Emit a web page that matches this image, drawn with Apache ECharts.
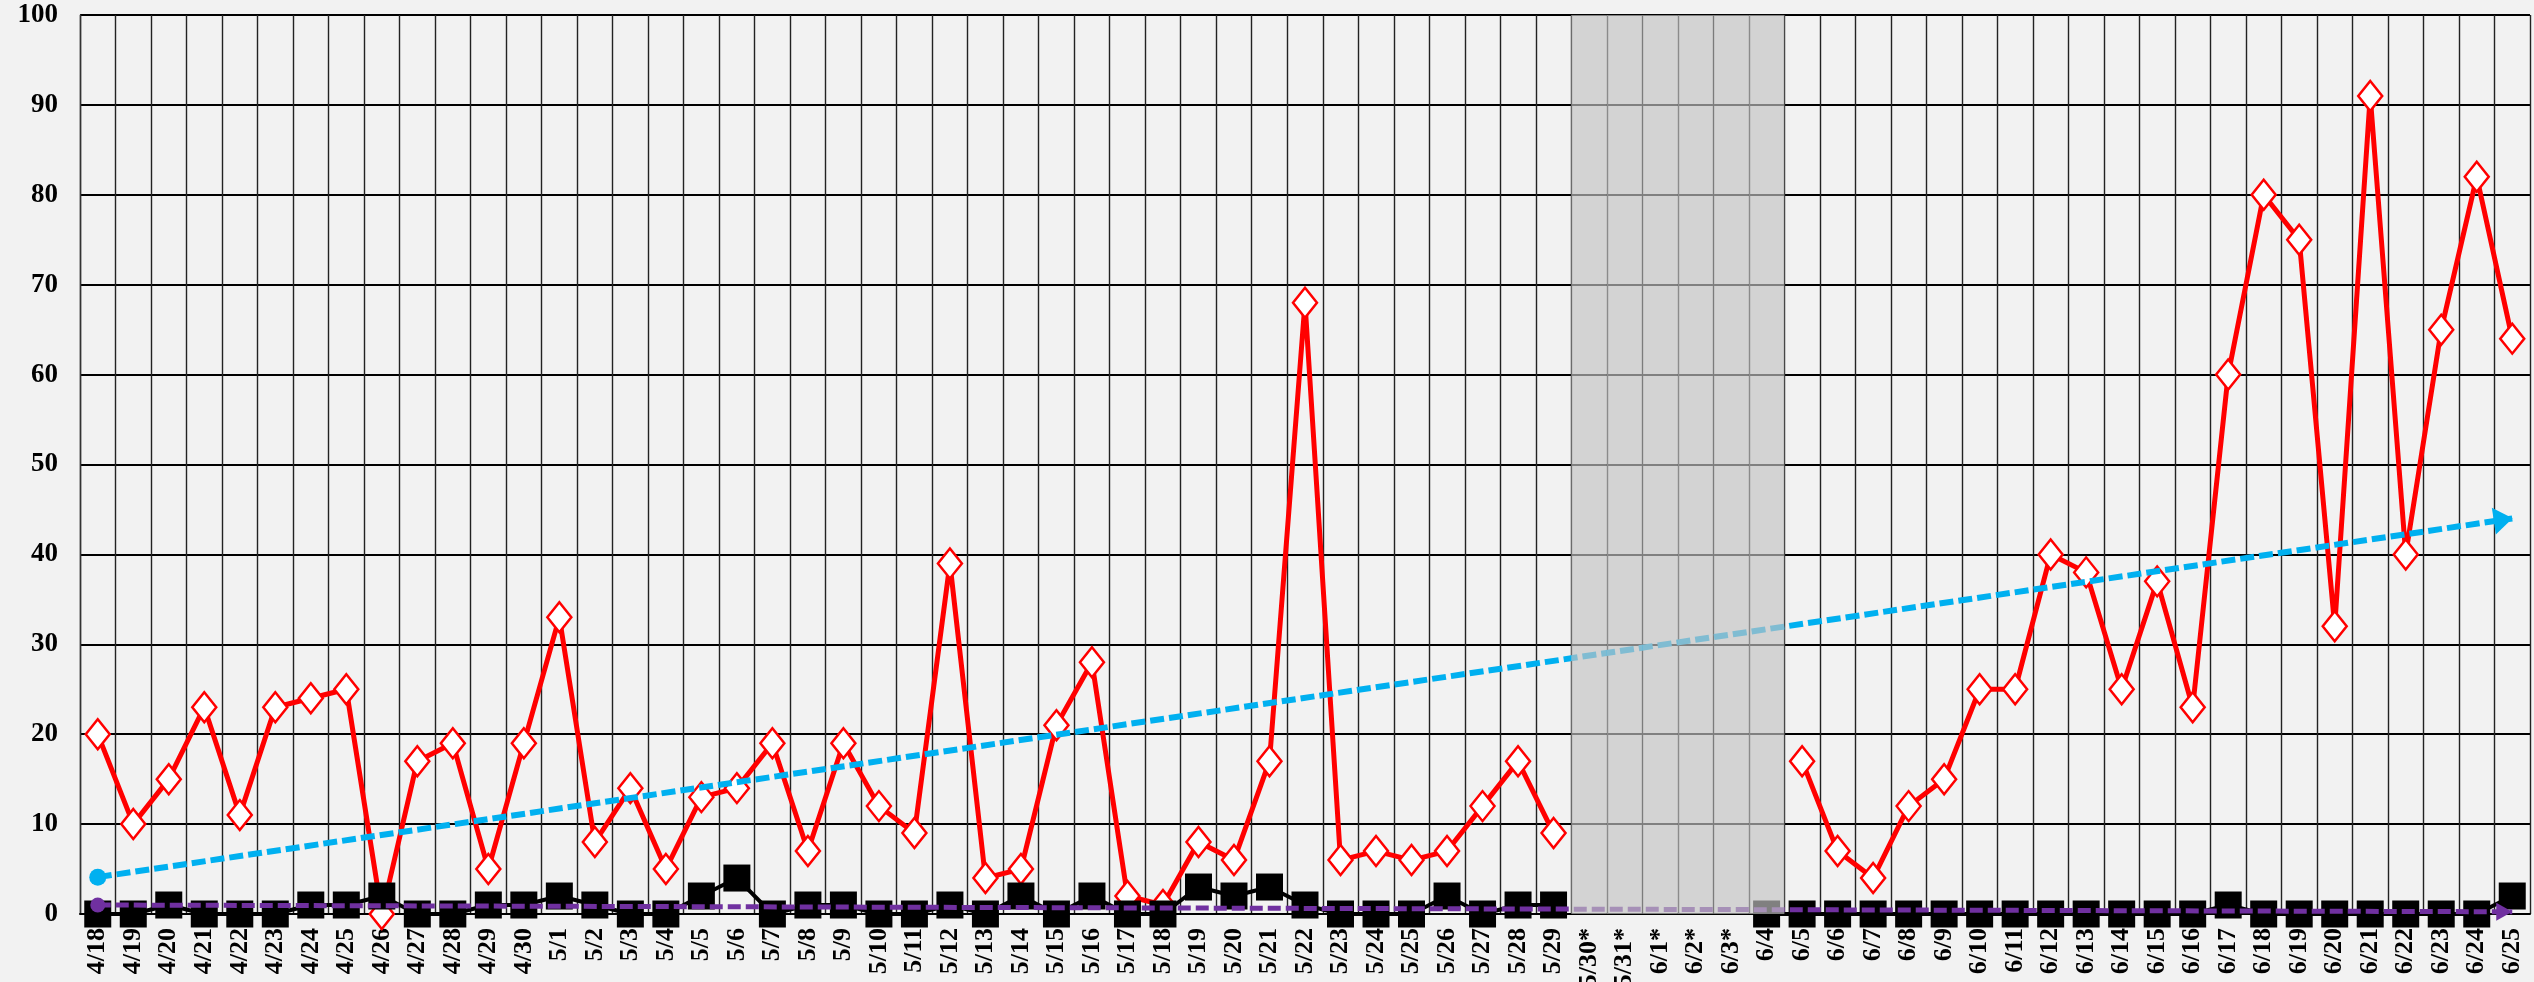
<!DOCTYPE html>
<html>
<head>
<meta charset="utf-8">
<script src="https://cdn.jsdelivr.net/npm/echarts@6/dist/echarts.min.js"></script>
<style>
html,body{margin:0;padding:0;background:#f2f2f2;}
#chart{width:2534px;height:982px;}
</style>
</head>
<body>
<div id="chart"></div>
<script>
var categories = ['4/18','4/19','4/20','4/21','4/22','4/23','4/24','4/25','4/26','4/27','4/28','4/29','4/30',
  '5/1','5/2','5/3','5/4','5/5','5/6','5/7','5/8','5/9','5/10','5/11','5/12','5/13','5/14','5/15','5/16','5/17','5/18','5/19','5/20','5/21','5/22','5/23','5/24','5/25','5/26','5/27','5/28','5/29',
  '5/30*','5/31*','6/1*','6/2*','6/3*',
  '6/4','6/5','6/6','6/7','6/8','6/9','6/10','6/11','6/12','6/13','6/14','6/15','6/16','6/17','6/18','6/19','6/20','6/21','6/22','6/23','6/24','6/25'];

var redValues = [20,10,15,23,11,23,24,25,0,17,19,5,19,
  33,8,14,5,13,14,19,7,19,12,9,39,4,5,21,28,2,1,8,6,17,68,6,7,6,7,12,17,9,
  null,null,null,null,null,
  null,17,7,4,12,15,25,25,40,38,25,37,23,60,80,75,32,91,40,65,82,64];

var blackValues = [0,0,1,0,0,0,1,1,2,0,0,1,1,
  2,1,0,0,2,4,0,1,1,0,0,1,0,2,0,2,0,0,3,2,3,1,0,0,0,2,0,1,1,
  null,null,null,null,null,
  0,0,0,0,0,0,0,0,0,0,0,0,0,1,0,0,0,0,0,0,0,2];

var blueTrendEnds = [4.1, 44.0];
var purpleTrendEnds = [1.0, 0.25];

var shadedCategories = ['5/30*','5/31*','6/1*','6/2*','6/3*','6/4'];
var yTicks = [0,10,20,30,40,50,60,70,80,90,100];

function trendData(ends, startSize, endSize, endRotate, endOffset){
  var d = categories.map(function(){ return null; });
  d[0] = {value: ends[0], symbol: 'circle', symbolSize: startSize};
  d[d.length-1] = {value: ends[1], symbol: 'triangle', symbolSize: endSize, symbolRotate: endRotate, symbolOffset: endOffset};
  return d;
}

var bandData = categories.map(function(c){ return shadedCategories.indexOf(c) >= 0 ? yTicks[yTicks.length-1] : null; });

var fontFam = '"Liberation Serif","Times New Roman",serif';

var chart = echarts.init(document.getElementById('chart'), null, {renderer:'canvas'});
chart.setOption({
  animation: false,
  backgroundColor: '#f2f2f2',
  grid: {left: 80, right: 4, top: 15, bottom: 68, containLabel: false, outerBoundsMode: 'none'},
  xAxis: {
    type: 'category',
    data: categories,
    boundaryGap: true,
    axisLine: {show: true, lineStyle: {color: '#000', width: 2}},
    axisTick: {show: false},
    axisLabel: {rotate: 90, interval: 0, margin: 14, color: '#000', fontFamily: fontFam, fontWeight: 'bold', fontSize: 26},
    splitLine: {show: true, interval: 0, lineStyle: {color: '#222', width: 1.4}}
  },
  yAxis: {
    type: 'value',
    min: yTicks[0], max: yTicks[yTicks.length-1], interval: 10,
    axisLine: {show: true, lineStyle: {color: '#333', width: 1.4}},
    axisTick: {show: false},
    axisLabel: {margin: 22, color: '#000', fontFamily: fontFam, fontWeight: 'bold', fontSize: 27},
    splitLine: {show: true, lineStyle: {color: '#000', width: 2.2}}
  },
  series: [
    {
      name: 'red', type: 'line', data: redValues, z: 3,
      symbol: 'diamond', symbolSize: [24, 30], showAllSymbol: true,
      itemStyle: {color: '#ffffff', borderColor: '#ff0000', borderWidth: 2.5},
      lineStyle: {color: '#ff0000', width: 5},
      connectNulls: false
    },
    {
      name: 'black', type: 'line', data: blackValues, z: 4,
      symbol: 'rect', symbolSize: 27, showAllSymbol: true,
      itemStyle: {color: '#000000', borderColor: '#000', borderWidth: 0},
      lineStyle: {color: '#000000', width: 4},
      connectNulls: false
    },
    {
      name: 'blueTrend', type: 'line', z: 5, connectNulls: true, showAllSymbol: true,
      data: trendData(blueTrendEnds, 17, [27, 19], -81.5, [-9, 1.3]),
      itemStyle: {color: '#00b0f0'},
      lineStyle: {color: '#00b0f0', width: 6, type: [14, 5]}
    },
    {
      name: 'purpleTrend', type: 'line', z: 5, connectNulls: true, showAllSymbol: true,
      data: trendData(purpleTrendEnds, 15, [18, 16], -90, [-8, 0]),
      itemStyle: {color: '#7030a0'},
      lineStyle: {color: '#7030a0', width: 5, type: [13, 5]}
    },
    {
      name: 'band', type: 'bar', data: bandData, z: 20, silent: true,
      barWidth: '100%',
      itemStyle: {color: 'rgba(195,195,195,0.66)'}
    }
  ]
});
</script>
</body>
</html>
